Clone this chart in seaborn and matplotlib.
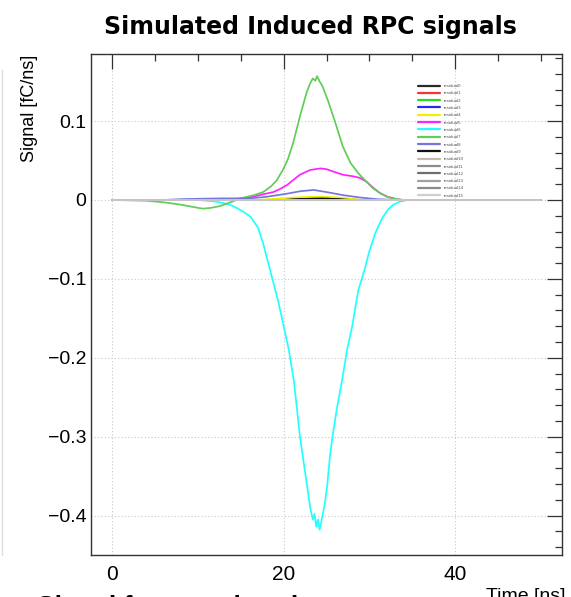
import matplotlib
matplotlib.use("Agg")
import matplotlib.pyplot as plt
from matplotlib.lines import Line2D
from matplotlib.ticker import MultipleLocator, FuncFormatter
import numpy as np
import pandas as pd
import seaborn as sns

sns.set_theme(style="white")
plt.rcParams["font.family"] = ["Liberation Sans", "DejaVu Sans"]
plt.rcParams["axes.unicode_minus"] = True
plt.rcParams["text.color"] = "black"
plt.rcParams["xtick.labelcolor"] = "black"
plt.rcParams["ytick.labelcolor"] = "black"

# ---- induced signals per readout strip (time in ns, signal in fC/ns) ----
channels = [f"residual{i}" for i in range(16)]
colors = ["#2b2b2b", "#ff3030", "#22dd22", "#2a2aee", "#f0f000", "#ff22ff",
          "#22ffff", "#62cc58", "#7676dc", "#111111", "#c9b8ad", "#8c8c8c",
          "#6e6e6e", "#a0a0a0", "#8a8a8a", "#cfcfcf"]

t_flat = [0, 50]
v_flat = [0, 0]

t_res0 = [0, 19, 21, 24, 27, 29, 50]
v_res0 = [0, 0, 0.0012, 0.0018, 0.0012, 0, 0]

t_res3 = [0, 21, 23, 24.5, 26, 50]
v_res3 = [0, 0, 0.0016, 0.0020, 0, 0]

t_res4 = [0, 17, 19, 21, 23, 24.5, 26, 27.5, 29, 50]
v_res4 = [0, 0, 0.0015, 0.003, 0.004, 0.0042, 0.0035, 0.002, 0, 0]

t_res5 = [0, 12, 14, 15, 16.4, 17.5, 18.8, 19.6, 20.4, 21.2, 21.9, 23.1,
          24.3, 25, 25.8, 26.9, 28.1, 28.9, 29.7, 30.4, 31.2, 32.1, 33.2, 34, 50]
v_res5 = [0, 0, 0.001, 0.002, 0.004, 0.007, 0.010, 0.014, 0.019, 0.026, 0.032,
          0.038, 0.040, 0.039, 0.036, 0.032, 0.030, 0.028, 0.023, 0.016, 0.009,
          0.004, 0.001, 0, 0]

t_res6 = [0, 10, 11, 12, 13, 13.7, 14.5, 15.3, 16.1, 17, 17.6, 18.2, 18.8,
          19.4, 20, 20.6, 21.2, 21.9, 22.5, 23.1, 23.4, 23.6, 23.8, 24.0, 24.2,
          24.5, 24.8, 25.1, 25.4, 25.7, 26.2, 26.8, 27.4, 28, 28.7, 29.4, 30,
          30.7, 31.5, 32.2, 32.8, 33.6, 34.5, 50]
v_res6 = [0, 0, -0.001, -0.002, -0.004, -0.006, -0.010, -0.015, -0.021,
          -0.035, -0.055, -0.080, -0.105, -0.130, -0.160, -0.190, -0.230,
          -0.300, -0.345, -0.390, -0.405, -0.398, -0.414, -0.405, -0.418,
          -0.402, -0.385, -0.360, -0.325, -0.300, -0.265, -0.230, -0.190,
          -0.160, -0.115, -0.090, -0.065, -0.042, -0.023, -0.012, -0.006,
          -0.002, 0, 0]

t_res7 = [0, 4, 6, 8, 9, 10, 10.6, 11.5, 12.5, 13.5, 14.5, 15.3, 16.5, 17.6,
          18.5, 19.2, 20, 20.5, 21.1, 21.9, 22.7, 23.1, 23.4, 23.7, 23.9, 24.2,
          24.5, 25.2, 26, 26.9, 27.8, 28.7, 29.5, 30.4, 31.2, 32.1, 33.2, 34, 50]
v_res7 = [0, -0.001, -0.003, -0.006, -0.008, -0.010, -0.011, -0.010, -0.008,
          -0.004, 0.000, 0.003, 0.006, 0.010, 0.017, 0.025, 0.040, 0.052,
          0.072, 0.106, 0.137, 0.148, 0.154, 0.151, 0.157, 0.150, 0.145,
          0.125, 0.099, 0.068, 0.047, 0.034, 0.025, 0.015, 0.009, 0.004,
          0.001, 0, 0]

t_res8 = [0, 6, 8, 10, 13, 16, 18, 20.4, 21.9, 23.5, 25, 27, 29, 30.9, 33, 50]
v_res8 = [0, 0, 0.001, 0.0015, 0.002, 0.002, 0.004, 0.008, 0.011, 0.0127,
          0.010, 0.006, 0.003, 0.001, 0, 0]

t_res9 = [0, 20, 23, 25, 28, 50]
v_res9 = [0, 0, 0.0015, 0.0018, 0, 0]

series = {
    "residual0": (t_res0, v_res0),
    "residual3": (t_res3, v_res3),
    "residual4": (t_res4, v_res4),
    "residual5": (t_res5, v_res5),
    "residual6": (t_res6, v_res6),
    "residual7": (t_res7, v_res7),
    "residual8": (t_res8, v_res8),
    "residual9": (t_res9, v_res9),
}

rows = []
for ch in channels:
    t, v = series.get(ch, (t_flat, v_flat))
    rows.append(pd.DataFrame({"time": t, "signal": v, "channel": ch}))
df = pd.concat(rows, ignore_index=True)

W, H = 571, 597
fig = plt.figure(figsize=(W / 100, H / 100), dpi=100)
fig.patch.set_facecolor("white")
ax = fig.add_axes([91 / W, 1 - 555 / H, (562 - 91) / W, (555 - 54) / H])
ax.set_facecolor("white")

sns.lineplot(data=df, x="time", y="signal", hue="channel", hue_order=channels,
             palette=dict(zip(channels, colors)), estimator=None, sort=False,
             linewidth=1.25, legend=False, ax=ax)

ax.set_xlim(-2.5, 52.5)
ax.set_ylim(-0.45, 0.185)
ax.set_xlabel("")
ax.set_ylabel("")

ax.xaxis.set_major_locator(MultipleLocator(20))
ax.xaxis.set_minor_locator(MultipleLocator(5))
ax.yaxis.set_major_locator(MultipleLocator(0.1))
ax.yaxis.set_minor_locator(MultipleLocator(0.02))
ax.yaxis.set_major_formatter(FuncFormatter(
    lambda v, p: "0" if abs(v) < 1e-9 else f"{v:g}".replace("-", "\u2212")))
ax.xaxis.set_major_formatter(FuncFormatter(lambda v, p: f"{v:g}"))

ax.grid(True, which="major", color="#c8c8c8", linestyle=(0, (1, 2)), linewidth=0.8)
for s in ax.spines.values():
    s.set_color("#333333")
    s.set_linewidth(1.0)
ax.tick_params(which="both", direction="in", top=True, right=True,
               color="#333333", width=0.9)
ax.tick_params(which="major", length=10.5)
ax.tick_params(which="minor", length=4.7)
ax.tick_params(axis="y", which="major", labelsize=14, pad=3.5)
ax.tick_params(axis="x", which="major", labelsize=15, pad=7)

handles = [Line2D([], [], color=c, lw=1.6) for c in colors]
ax.legend(handles, channels, loc="upper left",
          bbox_to_anchor=(418 / W, 1 - 84 / H), bbox_transform=fig.transFigure,
          frameon=False, fontsize=3.2, handlelength=5.0, handletextpad=0.7,
          labelspacing=0.72, borderpad=0, borderaxespad=0, labelcolor="#555555")

fig.text(310 / W, 1 - 27 / H, "Simulated Induced RPC signals", ha="center",
         va="center", fontsize=17, fontweight="bold", family="DejaVu Sans",
         color="black")
fig.text(30 / W, 1 - 55 / H, "Signal [fC/ns]", rotation=90, ha="center",
         va="top", fontsize=13, color="black")
fig.text(566 / W, 1 - 588 / H, "Time [ns]", ha="right", va="top", fontsize=14,
         color="black")
fig.text(37 / W, 1 - 595 / H, "Signal from each strip", ha="left", va="top",
         fontsize=19, fontweight="bold", color="black")
fig.add_artist(Line2D([1.5 / W, 1.5 / W], [1 - 70 / H, 1 - 555 / H],
                      color="#dddddd", lw=1.0))

fig.savefig("out.png", dpi=100, facecolor="white")
